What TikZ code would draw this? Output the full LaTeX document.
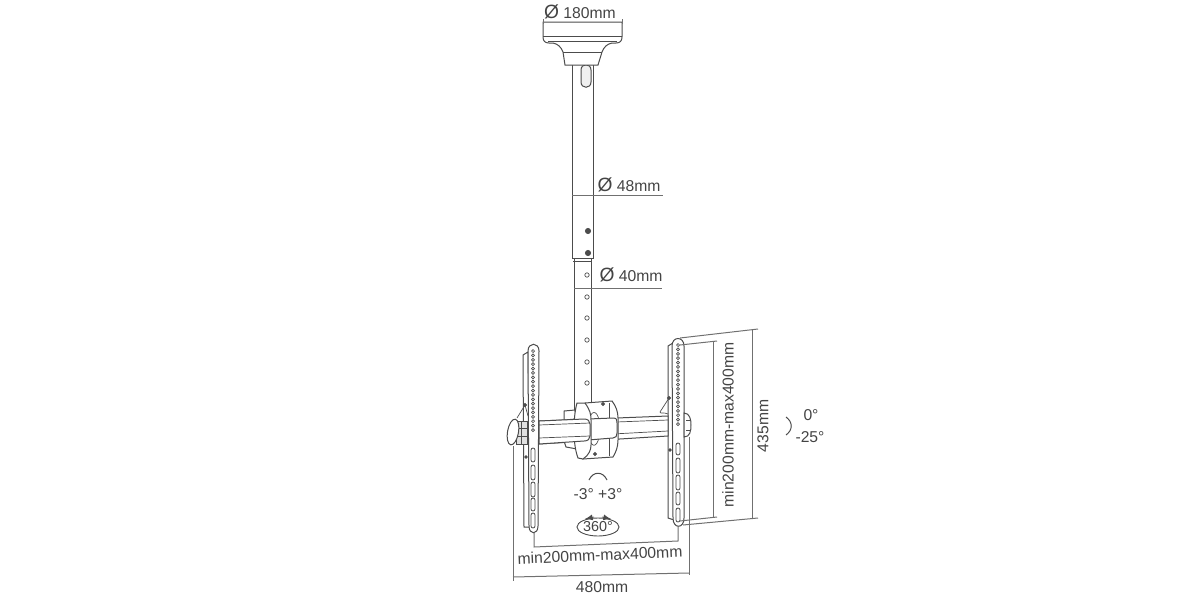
\documentclass[tikz,border=0pt]{standalone}
\usepackage{fontspec}
\setmainfont{Liberation Sans}
\usetikzlibrary{shapes.geometric}
\definecolor{inkline}{HTML}{4C4C4C}
\definecolor{dimline}{HTML}{707070}
\definecolor{dimtext}{HTML}{444444}
\newcommand{\dia}{{\fontsize{9.6}{9}\selectfont Ø}}
\tikzset{
	part/.style = {draw=inkline, line width=0.5pt, fill=white},
	thin part/.style = {draw=inkline, line width=0.35pt},
	dimen/.style = {draw=dimline, line width=0.5pt},
	hole/.style = {draw=inkline, line width=0.35pt, fill=white},
	slot/.style = {draw=inkline, line width=0.4pt, fill=white, rounded corners=1pt},
	bolt/.style = {draw=inkline, line width=0.4pt, fill=black!70},
	dimlabel/.style = {text=dimtext, font=\fontsize{7.85}{9}\selectfont, inner sep=0pt}
}
\begin{document}
\begin{tikzpicture}[x=0.5pt, y=-0.5pt]
	\useasboundingbox (0,0) rectangle (1200,600);
	% tubes
	\draw[part] (574,258) rectangle (591,410);
	\foreach \y in {275,297,318,340,362,383}
		\draw[hole] (587,\y) circle (2.2);
	\draw[part] (572,62) rectangle (593,258);
	\draw[part, fill=black!6] (581,70) .. controls (581,63) and (591,63) .. (591,70) -- (591,82)
		.. controls (591,89) and (581,89) .. (581,82) -- cycle;
	\draw[thin part] (572,258) -- (593,258) (573,261) -- (592,261);
	\draw[bolt] (588,231) circle (2.6);
	\draw[bolt] (588,253) circle (2.6);
	% ceiling plate
	\draw[part] (543,22) -- (622,22) -- (622,37) .. controls (622,41) and (620,43) .. (616,43)
		-- (612,43) .. controls (607,44) and (604,47) .. (602,52) -- (598,65) -- (565,65) -- (563,52)
		.. controls (561,47) and (558,44) .. (553,43) -- (549,43) .. controls (545,43) and (543,41) .. (543,37) -- cycle;
	\draw[thin part] (543,36) -- (622,36) (548,41) -- (617,41) (563,52) -- (602,52);
	% left bracket
	\draw[part] (523,355) -- (528,352) -- (530,527) -- (524,527) -- cycle;
	\draw[part] (528,351) .. controls (528,342) and (539,342) .. (539,351) -- (538,526)
		.. controls (538,535) and (529,535) .. (529,526) -- cycle;
	\foreach \i in {0,...,18}
		\draw[hole] (533,351+\i*4.39) circle (1.5);
	\draw[slot] (531,448) rectangle (535,462);
	\draw[slot] (531,465) rectangle (535,480);
	\draw[slot] (531,482) rectangle (535,497);
	\draw[slot] (531,498) rectangle (535,511);
	\draw[slot] (531,513) rectangle (535,528);
	\draw[bolt] (525,405) circle (1.6);
	\draw[bolt] (526,457) circle (1.3);
	\draw[thin part] (525,405) -- (517,418) (525,405) -- (528,416);
	% right bracket
	\draw[part] (668,346) -- (673,343) -- (674,520) -- (668,518) -- cycle;
	\draw[part] (672,346) .. controls (672,336) and (684,336) .. (684,346) -- (684,518)
		.. controls (684,529) and (673,529) .. (673,518) -- cycle;
	\foreach \i in {0,...,18}
		\draw[hole] (678,345+\i*4.39) circle (1.5);
	\draw[slot] (676,443) rectangle (680,455);
	\draw[slot] (676,458) rectangle (680,473);
	\draw[slot] (676,475) rectangle (680,490);
	\draw[slot] (676,492) rectangle (680,505);
	\draw[slot] (676,508) rectangle (680,522);
	\draw[part] (684,413) .. controls (690,413) and (691,420) .. (691,425) .. controls (691,431) and (690,437) .. (684,437) -- cycle;
	\draw[thin part] (686,420) -- (690,420) (686,430) -- (690,430);
	\draw[bolt] (669,398) circle (1.6);
	\draw[bolt] (670,450) circle (1.3);
	\draw[thin part] (669,398) -- (660,412) .. controls (660,414) and (664,412) .. (668,414);
	% crossbar
	\draw[part] (539,421) -- (668,416) -- (668,436) -- (539,444) -- cycle;
	\draw[thin part] (539,425) -- (668,420) (539,438) -- (668,431);
	% left knob
	\draw[part, fill=black!12] (516,421) rectangle (527,444);
	\draw[thin part] (521,421) -- (521,444) (517,428) -- (527,428) (517,436) -- (527,436);
	\draw[part, rotate around={-10:(513,432)}] (513,432) ellipse (5.5 and 13);
	% centre block
	\draw[part] (564,411) -- (575,410) -- (576,419) -- (564,420) -- cycle;
	\draw[part] (564,441) -- (576,440) -- (577,449) -- (566,447) -- cycle;
	\draw[part] (585,403) -- (612,401) .. controls (616,406) and (618,412) .. (618,418) -- (618,440)
		.. controls (618,447) and (616,452) .. (613,457) -- (583,459) -- cycle;
	\draw[thin part] (609,403) -- (609,456);
	\draw[thin part] (589,420) .. controls (591,410) and (597,410) .. (599,420);
	\draw[thin part] (589,437) .. controls (591,448) and (597,448) .. (599,437);
	\draw[bolt] (603,404) circle (1.5);
	\draw[bolt] (595,454) circle (1.5);
	\draw[part] (588,419) -- (613,418) .. controls (617,418) and (617,420) .. (617,423) -- (617,433)
		.. controls (617,436) and (616,438) .. (613,438) -- (588,440) -- cycle;
	\draw[part] (577,403) -- (585,403) .. controls (590,410) and (591,414) .. (591,420) -- (591,445)
		.. controls (591,450) and (589,455) .. (583,459) -- (578,458) .. controls (575,450) and (574,440) .. (574,430)
		.. controls (574,420) and (575,410) .. (577,403) -- cycle;
	\draw[part] (539,421) -- (584,419) .. controls (588,419) and (590,421) .. (590,424) -- (590,436)
		.. controls (590,439) and (588,441) .. (584,441) -- (539,444) -- cycle;
	\draw[thin part] (539,425) -- (590,423) (539,438) -- (590,436);
	% dimension points
	\coordinate (plateL) at (543,19);
	\coordinate (plateR) at (622,19);
	\coordinate (tubeA) at (572,195);
	\coordinate (tubeAend) at (663,195);
	\coordinate (tubeB) at (574,288);
	\coordinate (tubeBend) at (662,288);
	\coordinate (bigTop) at (680,338);
	\coordinate (bigTopEnd) at (758,329);
	\coordinate (bigBot) at (683,525);
	\coordinate (bigBotEnd) at (758,518);
	\coordinate (bigUp) at (752,330);
	\coordinate (bigDown) at (752,519);
	\coordinate (vesaTop) at (680,345);
	\coordinate (vesaTopEnd) at (717,341);
	\coordinate (vesaBot) at (680,521);
	\coordinate (vesaBotEnd) at (717,517);
	\coordinate (vesaUp) at (713,342);
	\coordinate (vesaDown) at (713,518);
	\coordinate (holeL) at (534,533);
	\coordinate (holeLdown) at (534,547);
	\coordinate (holeR) at (678,526);
	\coordinate (holeRdown) at (678,541);
	\coordinate (wideL) at (513,446);
	\coordinate (wideLdown) at (513,581);
	\coordinate (wideLend) at (513,577);
	\coordinate (wideR) at (689,437);
	\coordinate (wideRdown) at (689,575);
	\coordinate (wideRend) at (689,573);
	% dimension lines
	\draw[dimen] (plateL) -- (543,24) (plateR) -- (622,24);
	\draw[dimen] (tubeA) -- (tubeAend);
	\draw[dimen] (tubeB) -- (tubeBend);
	\draw[dimen] (bigTop) -- (bigTopEnd);
	\draw[dimen] (bigBot) -- (bigBotEnd);
	\draw[dimen] (bigUp) -- (bigDown);
	\draw[dimen] (vesaTop) -- (vesaTopEnd);
	\draw[dimen] (vesaBot) -- (vesaBotEnd);
	\draw[dimen] (vesaUp) -- (vesaDown);
	\draw[dimen] (holeL) -- (holeLdown) -- (holeRdown) -- (holeR);
	\draw[dimen] (wideL) -- (wideLdown);
	\draw[dimen] (wideR) -- (wideRdown);
	\draw[dimen] (wideLend) -- (wideRend);
	% labels
	\node[dimlabel] (dia180) at (580,12) {\dia\ 180mm};
	\node[dimlabel] (dia48) at (629,185) {\dia\ 48mm};
	\node[dimlabel] (dia40) at (631,275) {\dia\ 40mm};
	\node[dimlabel, rotate=90] (vesaV) at (728,425) {min200mm-max400mm};
	\node[dimlabel, rotate=90] (height) at (763,426) {435mm};
	\node[dimlabel, rotate=2.5] (vesaH) at (600,555) {min200mm-max400mm};
	\node[dimlabel] (width) at (602,587) {480mm};
	\node[dimlabel] (tiltA) at (811,415) {0\textdegree};
	\node[dimlabel] (tiltB) at (810,437) {-25\textdegree};
	\node[dimlabel] (swing) at (598,494) {-3\textdegree\ +3\textdegree};
	% motion marks
	\draw[thin part, line width=0.5pt] (786,417) .. controls (793,422) and (793,430) .. (786,435);
	\draw[thin part, line width=0.5pt] (589,480) .. controls (593,471) and (603,471) .. (607,480);
	\node[draw=inkline, line width=0.45pt, ellipse, minimum width=19pt, minimum height=9pt, inner sep=0pt, text=dimtext,
		font=\fontsize{7.2}{9}\selectfont] (spin) at (598,527) {360\textdegree};
	\draw[thin part, -latex] (594,517) -- (585,519);
	\draw[thin part, -latex] (602,517) -- (611,519);
\end{tikzpicture}
\end{document}
